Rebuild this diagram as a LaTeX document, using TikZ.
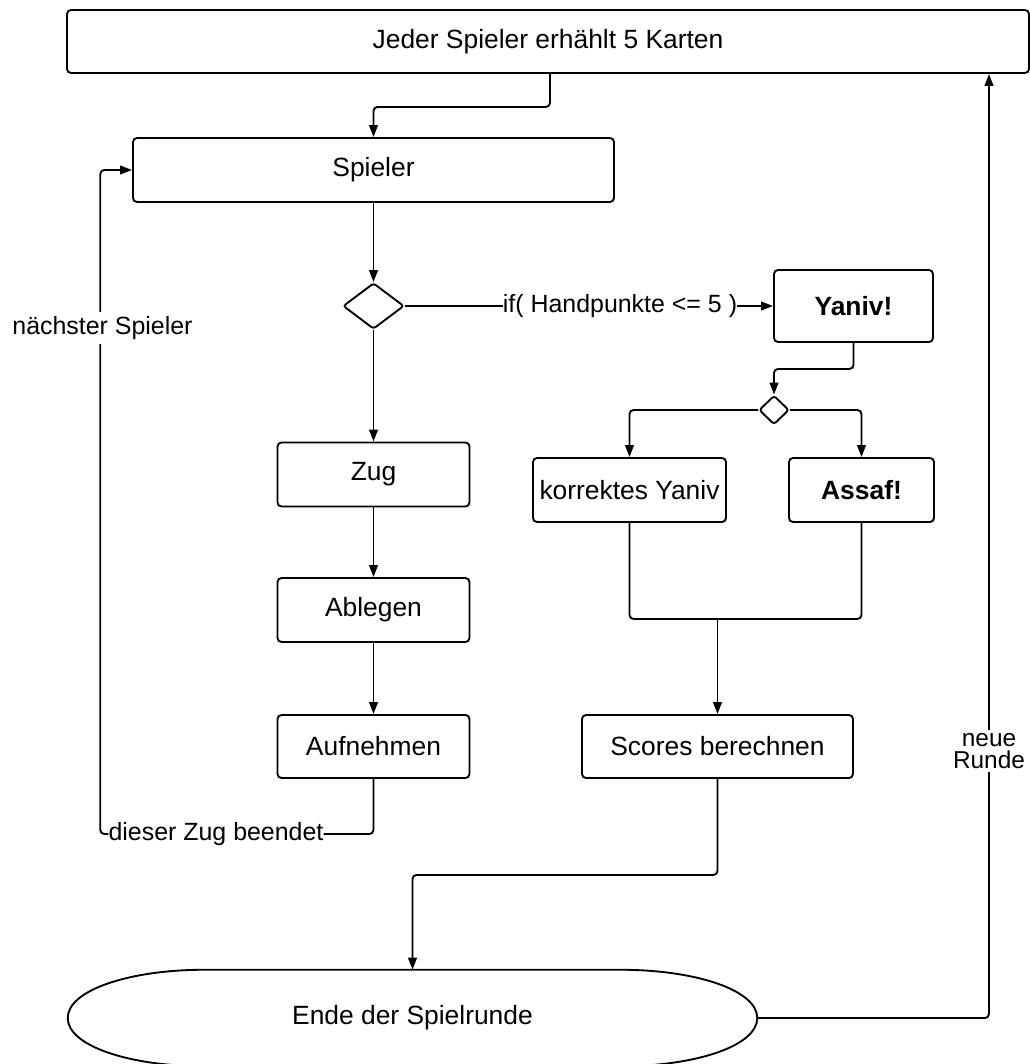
\documentclass[tikz,border=0pt]{standalone}
\usepackage{fontspec}
\setmainfont{Liberation Sans}
\usetikzlibrary{arrows.meta,shapes.geometric}

\tikzset{
  lw/.style={line width=1.4pt},
  proc/.style={draw, lw, rounded corners=3pt, inner sep=0pt,
    font=\fontsize{19.8}{24}\selectfont},
  dia/.style={diamond, draw, lw, rounded corners=2pt, inner sep=0pt},
  lbl/.style={inner sep=0pt, font=\fontsize{18.7}{22}\selectfont},
  conn/.style={lw, rounded corners=3pt},
  arr/.style={conn, -{Triangle[length=9pt,width=6.5pt]}},
}

\begin{document}
\begin{tikzpicture}[x=0.75pt, y=-0.75pt]
\useasboundingbox (0,0) rectangle (1030,1064);

% process boxes
\node[proc, minimum width=721.5pt, minimum height=47.25pt] (top) at (548,41.5) {Jeder Spieler erhählt 5 Karten};
\node[proc, minimum width=360.75pt, minimum height=48pt] (spieler) at (373.5,170) {Spieler};
\node[dia, minimum width=45.75pt, minimum height=34.5pt] (d1) at (373.5,306) {};
\node[proc, minimum width=119.25pt, minimum height=54pt, font=\fontsize{19.8}{24}\selectfont\bfseries] (yaniv) at (853.5,306) {Yaniv!};
\node[dia, minimum width=22.5pt, minimum height=21.75pt] (d2) at (774,410) {};
\node[proc, minimum width=144.75pt, minimum height=48pt] (korrekt) at (629.5,490) {korrektes Yaniv};
\node[proc, minimum width=108.75pt, minimum height=48pt, font=\fontsize{19.8}{24}\selectfont\bfseries] (assaf) at (861.5,490) {Assaf!};
\node[proc, minimum width=144pt, minimum height=48pt] (zug) at (373.5,474.5) {Zug};
\node[proc, minimum width=144pt, minimum height=48pt] (ablegen) at (373.5,610) {Ablegen};
\node[proc, minimum width=144pt, minimum height=47.25pt] (aufnehmen) at (373.5,746.5) {Aufnehmen};
\node[proc, minimum width=203.25pt, minimum height=47.25pt] (scores) at (717.5,746.5) {Scores berechnen};

% terminator: flat top and bottom with elliptic caps
\node[minimum width=516.75pt, minimum height=72pt, inner sep=0pt,
      font=\fontsize{19.8}{24}\selectfont] (ende) at (412.5,1018) {Ende der Spielrunde};
\draw[lw] (ende.west) .. controls +(0,-28) and +(-75,0) .. ([xshift=102.75pt]ende.north west)
  -- ([xshift=-102.75pt]ende.north east)
  .. controls +(75,0) and +(0,-28) .. (ende.east)
  .. controls +(0,28) and +(75,0) .. ([xshift=-102.75pt]ende.south east)
  -- ([xshift=102.75pt]ende.south west)
  .. controls +(-75,0) and +(0,28) .. (ende.west) -- cycle;

% connectors
\draw[arr] ([xshift=1.5pt]top.south) -- ++(0,33) -| (spieler.north);
\draw[arr] (spieler.south) -- (d1.north);

\node[lbl] (iflbl) at (620,306) {if( Handpunkte <= 5 )};
\draw[conn] (d1.east) -- (iflbl.west);
\draw[arr] (iflbl.east) -- (yaniv.west);

\draw[arr] (yaniv.south) -- ++(0,26) -| (d2.north);
\draw[arr] (d2.west) -| (korrekt.north);
\draw[arr] (d2.east) -| (assaf.north);

\draw[conn] (korrekt.south) -- ++(0,96) -| (assaf.south);
\coordinate (join) at (717.5,618);
\draw[arr] (join) -- (scores.north);

\draw[arr] (d1.south) -- (zug.north);
\draw[arr] (zug.south) -- (ablegen.north);
\draw[arr] (ablegen.south) -- (aufnehmen.north);

\node[lbl] (zugende) at (216,834) {dieser Zug beendet};
\draw[conn] (aufnehmen.south) |- (zugende.east);
\draw[arr] (zugende.west) -- ++(-8,0) |- (spieler.west);
\node[lbl, fill=white, inner ysep=3pt] (naechster) at (102.5,328) {nächster Spieler};

\draw[arr] (scores.south) -- ++(0,96) -| (ende.north);
\draw[arr] (ende.east) -| ([xshift=330.75pt]top.south);
\node[lbl, fill=white, inner ysep=3pt, align=center,
      font=\fontsize{18.3}{16}\selectfont] (neue) at (989,751) {neue\\Runde};
\end{tikzpicture}
\end{document}
